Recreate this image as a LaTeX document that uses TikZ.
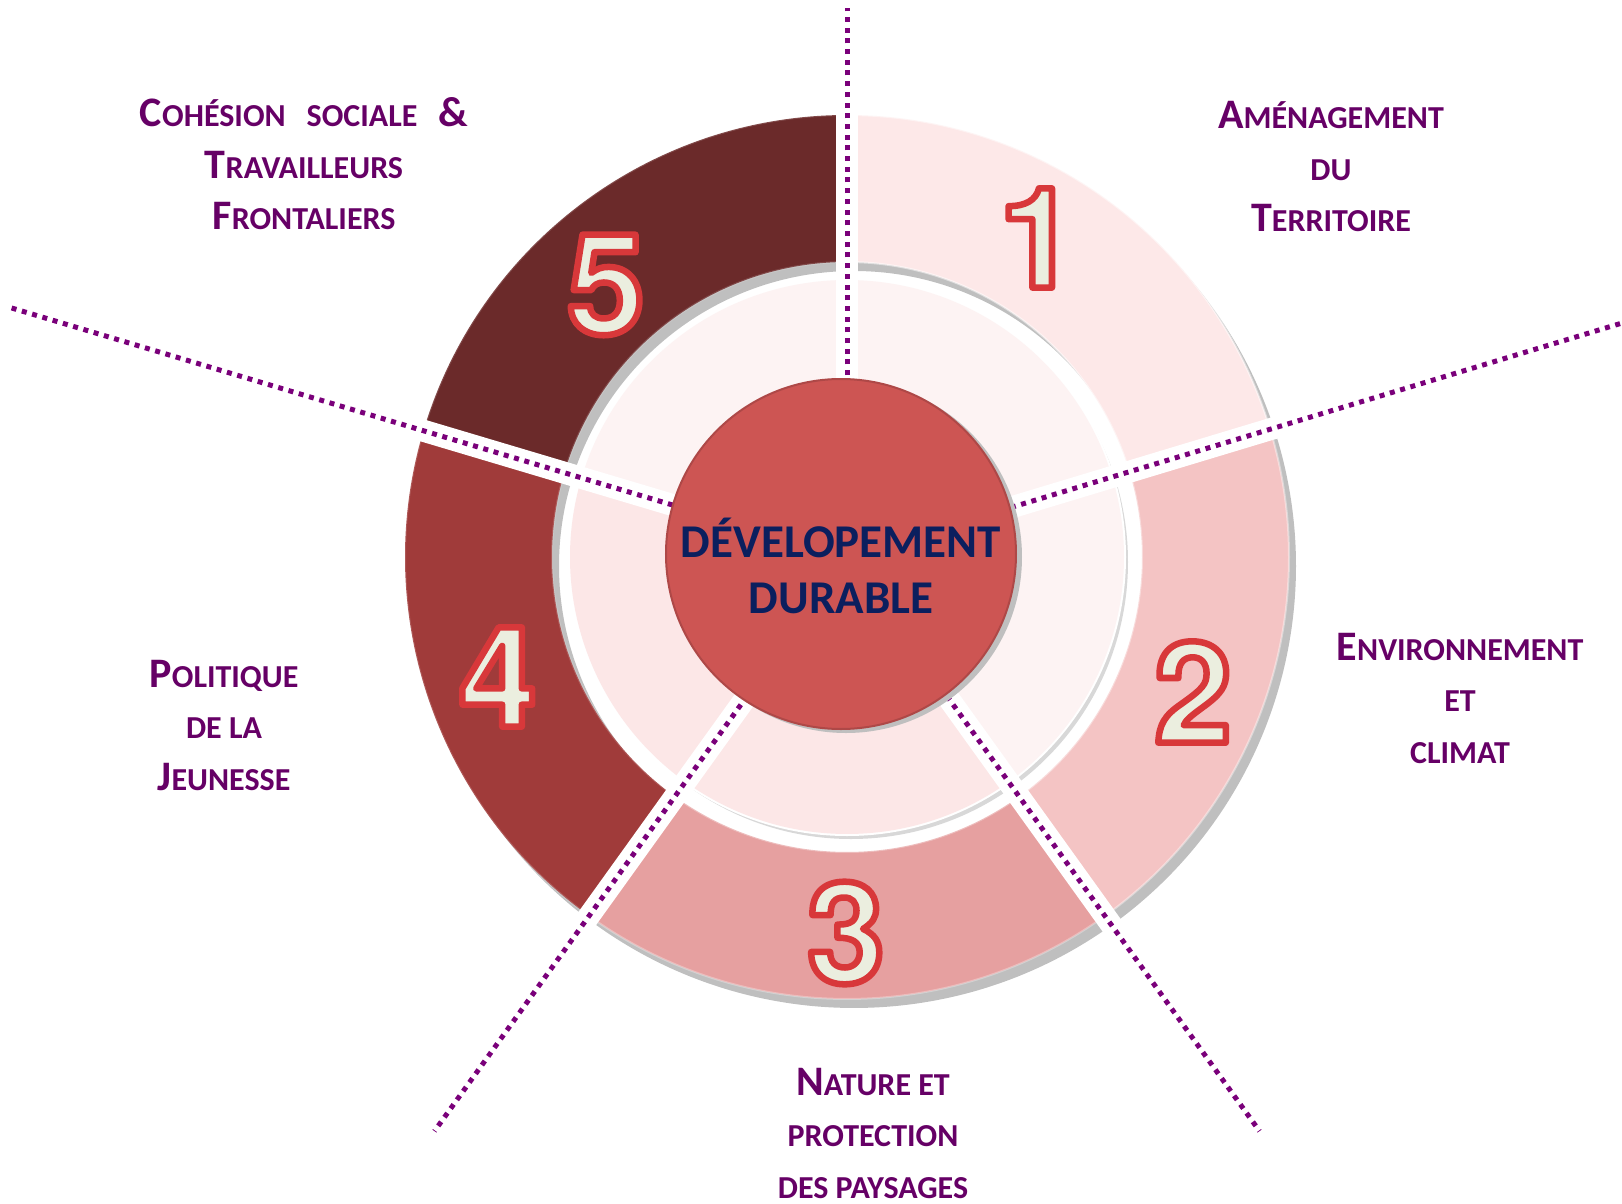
\documentclass[tikz,border=0pt]{standalone}
\usepackage{fontspec}
\setmainfont{Carlito}
\newfontfamily\numfont{TeX Gyre Heros}

\definecolor{labpurple}{HTML}{660066}
\definecolor{dotpurple}{HTML}{7A007A}
\definecolor{ddnavy}{HTML}{0B1F5E}
\definecolor{ddred}{HTML}{CD5553}
\definecolor{segun}{HTML}{FDE8E8}
\definecolor{segdeux}{HTML}{F4C4C4}
\definecolor{segtrois}{HTML}{E6A0A0}
\definecolor{segquatre}{HTML}{A03B3A}
\definecolor{segcinq}{HTML}{6B2A2A}
\definecolor{anneau}{HTML}{FDF3F3}
\definecolor{anneaurose}{HTML}{FCE7E7}
\definecolor{numcream}{HTML}{EBEEDF}
\definecolor{ombre}{HTML}{BFBFBF}

\newcommand{\secteur}[4]{(#1:#3) arc[start angle=#1, end angle=#2, radius=#3] -- (#2:#4) arc[start angle=#2, end angle=#1, radius=#4] -- cycle}
\newcommand{\initiale}[1]{{\fontsize{42}{51.5}\selectfont #1}}
% chiffre rempli crème, contour rouge
\newcommand{\chiffre}[1]{\special{pdf:literal direct 2 Tr 6.5 w 1 j 0.847 0.22 0.227 RG}#1\special{pdf:literal direct 0 Tr}}

\begin{document}
\begin{tikzpicture}[x=1pt, y=1pt,
  lab/.style={text=labpurple, align=center, anchor=base, font=\fontsize{32}{51.5}\selectfont\bfseries},
  num/.style={text=numcream, font=\numfont\fontsize{140}{140}\selectfont\bfseries},
  pointille/.style={draw=dotpurple, line width=5pt, dash pattern=on 5pt off 5.7pt}]
\useasboundingbox (-847,-646) rectangle (775,557);
\coordinate (O) at (0,0);

% ombres de l'anneau extérieur
\begin{scope}[shift={(7,-9)}]
\fill[ombre] \secteur{16.8}{90}{295}{442};
\fill[ombre] \secteur{-54.3}{16.8}{295}{442};
\fill[ombre] \secteur{-125.7}{-54.3}{295}{442};
\fill[ombre] \secteur{163.4}{234.3}{295}{442};
\fill[ombre] \secteur{90}{163.4}{295}{442};
\end{scope}

% anneau extérieur
\fill[segun, draw=white, draw opacity=0.5, line width=2pt] \secteur{16.8}{90}{295}{442};
\fill[segdeux, draw=white, draw opacity=0.4, line width=2pt] \secteur{-54.3}{16.8}{295}{442};
\fill[segtrois, draw=white, draw opacity=0.3, line width=2pt] \secteur{-125.7}{-54.3}{295}{442};
\fill[segquatre, draw=white, draw opacity=0.15, line width=2pt] \secteur{163.4}{234.3}{295}{442};
\fill[segcinq, draw=white, draw opacity=0.15, line width=2pt] \secteur{90}{163.4}{295}{442};

% anneau du milieu
\fill[ombre!60] (4,-5) circle (277);
\fill[white] (O) circle (279);
\fill[anneau] \secteur{16.8}{90}{160}{277};
\fill[anneau] \secteur{-54.3}{16.8}{160}{277};
\fill[anneaurose] \secteur{-125.7}{-54.3}{160}{277};
\fill[anneaurose] \secteur{163.4}{234.3}{160}{277};
\fill[anneau] \secteur{90}{163.4}{160}{277};

% séparations
\draw[white, line width=22pt] (O) -- (90:470);
\draw[white, line width=22pt] (O) -- (16.8:470);
\draw[white, line width=22pt] (O) -- (-54.3:470);
\draw[white, line width=22pt] (O) -- (-125.7:470);
\draw[white, line width=22pt] (O) -- (163.4:470);

% lignes pointillées
\coordinate (haut) at (90:549);
\coordinate (droite) at (16.8:815);
\coordinate (basdroite) at (-54.3:707);
\coordinate (basgauche) at (-125.7:707);
\coordinate (gauche) at (163.4:873);
\draw[pointille] (O) -- (haut);
\draw[pointille] (O) -- (droite);
\draw[pointille] (O) -- (basdroite);
\draw[pointille] (O) -- (basgauche);
\draw[pointille] (O) -- (gauche);

% cercle central
\fill[ombre] (-1,0) circle (176);
\node[circle, fill=ddred, draw=ddred!85!black, line width=2pt, minimum size=350pt, inner sep=0pt] (dd) at (-6,3) {};
\node[text=ddnavy, font=\fontsize{47}{56}\selectfont\bfseries, align=center, anchor=base] (ddtexte) at (-6,-56) {DÉVELOPEMENT\\DURABLE};

% numéros
\node[num] (n1) at (191,319) {\chiffre{1}};
\node[num] (n2) at (346,-135) {\chiffre{2}};
\node[num] (n3) at (-1,-376) {\chiffre{3}};
\node[num] (n4) at (-349,-120) {\chiffre{4}};
\node[num] (n5) at (-241,272) {\chiffre{5}};

% thèmes
\node[lab] (amenagement) at (484,325) {\initiale{A}MÉNAGEMENT\\DU\\\initiale{T}ERRITOIRE};
\node[lab] (environnement) at (613,-206) {\initiale{E}NVIRONNEMENT\\ET\\CLIMAT};
\node[lab] (nature) at (26,-641) {\initiale{N}ATURE ET\\PROTECTION\\DES PAYSAGES};
\node[lab] (politique) at (-623,-233) {\initiale{P}OLITIQUE\\DE LA\\\initiale{J}EUNESSE};
\node[lab] (cohesion) at (-543,327) {\initiale{C}OHÉSION\hspace{21pt}SOCIALE\hspace{21pt}\initiale{\&}\\\initiale{T}RAVAILLEURS\\\initiale{F}RONTALIERS};
\end{tikzpicture}
\end{document}
